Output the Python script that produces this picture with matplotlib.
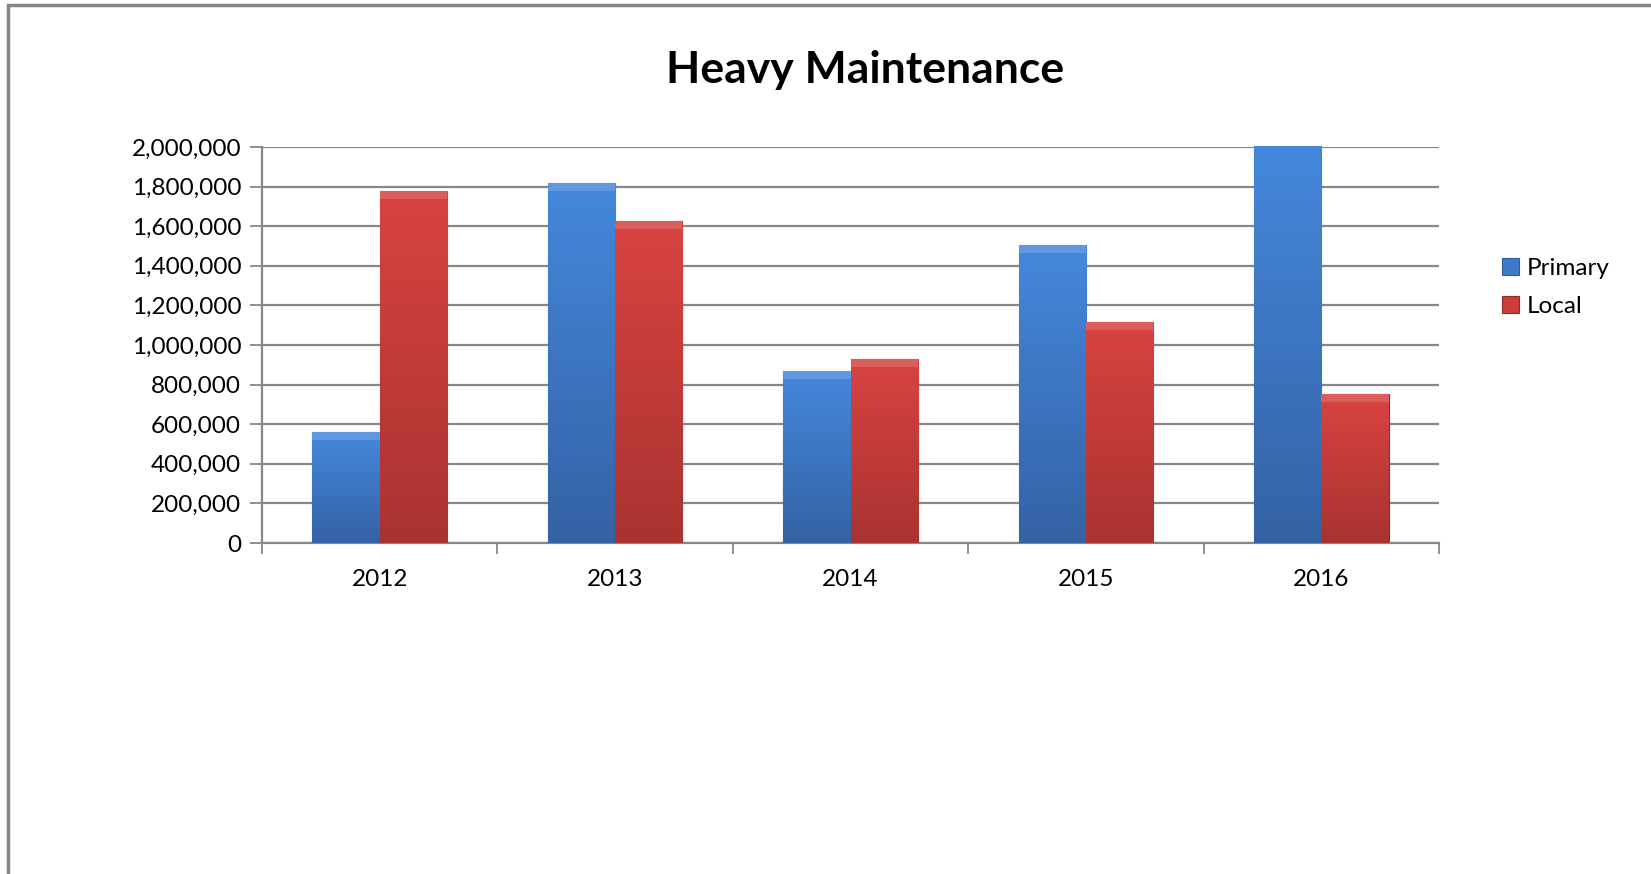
import numpy as np
import matplotlib
matplotlib.use('Agg')
import matplotlib.pyplot as plt
from matplotlib.patches import Rectangle
from matplotlib.ticker import FuncFormatter, MultipleLocator

plt.rcParams['font.family'] = ['Lato', 'DejaVu Sans']

years = ['2012', '2013', '2014', '2015', '2016']
primary = [562000, 1820000, 870000, 1505000, 2100000]
local = [1778000, 1628000, 931000, 1118000, 751000]

fig = plt.figure(figsize=(16.51, 8.74), dpi=100)
ax = fig.add_axes([0.1587, 0.3787, 0.7129, 0.4531])

# outer chart frame
fig.patches.append(Rectangle((8 / 1651, -0.1), 1.2, 1.1 - 5 / 874, transform=fig.transFigure,
                             fill=False, edgecolor='#878787', linewidth=2.5))

x = np.arange(len(years))
w = 2 / 7

def shade(bars, top, bottom):
    # vertical gradient clipped to each bar
    grad = np.linspace(1, 0, 256).reshape(-1, 1)
    c0 = np.array(matplotlib.colors.to_rgb(top))
    c1 = np.array(matplotlib.colors.to_rgb(bottom))
    img = c1 + (c0 - c1) * grad[:, :, None]
    for b in bars:
        x0, y0 = b.get_x(), b.get_y()
        h = min(b.get_height(), 2000000)
        im = ax.imshow(img, extent=[x0, x0 + b.get_width(), y0, y0 + h],
                       aspect='auto', zorder=3, interpolation='bicubic')
        im.set_clip_path(b)
        # bevel on top
        if b.get_height() <= 2000000:
            ax.add_patch(Rectangle((x0, y0 + h - 40000), b.get_width(), 40000,
                                   facecolor='white', alpha=0.15, edgecolor='none', zorder=4))

b1 = ax.bar(x - w / 2, primary, w, color='#3d7bca', edgecolor='#2d5c96', linewidth=0.8,
            label='Primary', zorder=2)
b2 = ax.bar(x + w / 2, local, w, color='#cc3d3a', edgecolor='#8e2a28', linewidth=0.8,
            label='Local', zorder=2)
shade(b1, '#4588dc', '#3462a4')
shade(b2, '#d84341', '#a93331')

ax.set_xlim(-0.5, len(years) - 0.5)
ax.set_ylim(0, 2000000)
ax.yaxis.set_major_locator(MultipleLocator(200000))
ax.yaxis.set_major_formatter(FuncFormatter(lambda v, p: f'{int(v):,}'))
ax.set_xticks(x)
ax.set_xticklabels(years)
ax.set_xticks(np.arange(len(years) + 1) - 0.5, minor=True)
ax.tick_params(axis='x', which='major', length=0, pad=19, labelsize=17.5)
ax.tick_params(axis='x', which='minor', length=8, width=1.3, color='#878787', direction='out')
ax.tick_params(axis='y', length=9, width=1.3, color='#878787', labelsize=17.5, pad=6)
ax.grid(axis='y', color='#878787', linewidth=1.6, zorder=0)
ax.set_axisbelow(True)
for s in ['top', 'right']:
    ax.spines[s].set_visible(False)
ax.spines['left'].set_color('#878787')
ax.spines['bottom'].set_color('#878787')
ax.spines['left'].set_linewidth(1.6)
ax.spines['bottom'].set_linewidth(1.6)

fig.text(0.524, 0.92, 'Heavy Maintenance', ha='center', va='center',
         fontsize=32, fontweight='bold')

ax.legend(loc='upper left', bbox_to_anchor=(1.045, 0.745), frameon=False, fontsize=17.5,
          handlelength=0.7, handleheight=0.7, handletextpad=0.35, labelspacing=0.72,
          borderaxespad=0)

fig.savefig('out.png', dpi=100)
